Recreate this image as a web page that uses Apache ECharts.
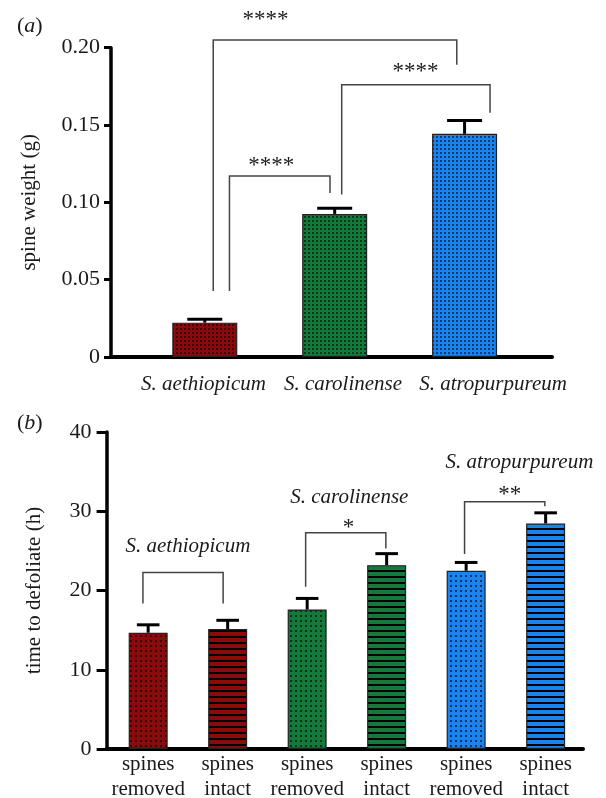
<!DOCTYPE html>
<html><head><meta charset="utf-8">
<script src="https://cdn.jsdelivr.net/npm/echarts@6/dist/echarts.min.js"></script>
<style>html,body{margin:0;padding:0;background:#fff}#c{width:606px;height:798px}</style>
</head><body><div id="c"></div>
<script>
// ---------- DATA ----------
const speciesA = ['S. aethiopicum', 'S. carolinense', 'S. atropurpureum'];
const speciesLabelPosA = [-0.01, 1.064, 2.219];
const weightMean = [0.0222, 0.0925, 0.1443];
const weightErr = [0.0022, 0.0037, 0.0086];
const yTicksA = [0, 0.05, 0.10, 0.15, 0.20];

const treatmentLabels = ['spines\nremoved', 'spines\nintact', 'spines\nremoved', 'spines\nintact', 'spines\nremoved', 'spines\nintact'];
const defolMean = [14.67, 15.14, 17.6, 23.2, 22.49, 28.46];
const defolErr = [1.0, 1.1, 1.4, 1.45, 1.05, 1.34];
const yTicksB = [0, 10, 20, 30, 40];

// brackets: [xLeft, xRight, yTop, yLeftEnd, yRightEnd]
const bracketsA = [[0.065, 1.94, 0.205, 0.0427, 0.189], [0.19, 0.964, 0.117, 0.0427, 0.106], [1.054, 2.196, 0.176, 0.105, 0.158]];
const starsA = ['****', '****', '****'];
const starPosA = [[0.467, 0.2199], [0.512, 0.1253], [1.622, 0.186]];

const bracketsB = [[-0.066, 0.943, 22.28, 18.37, 18.37], [1.981, 2.99, 27.28, 20.47, 25.31], [3.98, 4.99, 31.19, 24.6, 30.64]];
const starsB = ['*', '**'];
const starPosB = [[2.52, 28.4], [4.55, 32.5]];
const speciesB = ['S. aethiopicum', 'S. carolinense', 'S. atropurpureum'];
const speciesPosB = [[0.50, 25.5], [2.53, 31.8], [4.67, 36.2]];

// ---------- STYLE ----------
const FONT = 'Liberation Serif';
const colors = ['#8a0b0b', '#137a3b', '#1b83ef'];
const TXT = '#1a1a1a';

function nearestIdx(arr, v) {
  let best = 0;
  for (let i = 1; i < arr.length; i++) if (Math.abs(arr[i] - v) < Math.abs(arr[best] - v)) best = i;
  return best;
}
function dots(base, tile, dot, dc) {
  const c = document.createElement('canvas'); c.width = tile; c.height = tile;
  const g = c.getContext('2d'); g.fillStyle = base; g.fillRect(0, 0, tile, tile);
  g.fillStyle = dc; g.fillRect(0, 0, dot, dot);
  return { image: c, repeat: 'repeat' };
}
function stripes(base, period, w) {
  const c = document.createElement('canvas'); c.width = 4; c.height = period;
  const g = c.getContext('2d'); g.fillStyle = base; g.fillRect(0, 0, 4, period);
  g.fillStyle = '#000'; g.fillRect(0, 0, 4, w);
  return { image: c, repeat: 'repeat' };
}

function errRender(halfCap) {
  return function (p, api) {
    const x = api.value(0), m = api.value(1), e = api.value(2);
    const b = api.coord([x, m]), t = api.coord([x, m + e]);
    return { type: 'group', children: [
      { type: 'line', shape: { x1: b[0], y1: b[1], x2: t[0], y2: t[1] }, style: { stroke: '#000', lineWidth: 3 } },
      { type: 'line', shape: { x1: t[0] - halfCap, y1: t[1], x2: t[0] + halfCap, y2: t[1] }, style: { stroke: '#000', lineWidth: 3 } }
    ] };
  };
}
function bracketRender(p, api) {
  const x1 = api.value(0), x2 = api.value(1), yt = api.value(2), yl = api.value(3), yr = api.value(4);
  return { type: 'polyline', shape: { points: [api.coord([x1, yl]), api.coord([x1, yt]), api.coord([x2, yt]), api.coord([x2, yr])] },
    style: { stroke: '#444', lineWidth: 1.5, fill: null } };
}
function textRender(labels, size, italic, dy) {
  return function (p, api) {
    const pt = api.coord([api.value(0), api.value(1)]);
    return { type: 'text', x: pt[0], y: pt[1] + dy, style: { text: labels[p.dataIndex], fontSize: size, fontFamily: FONT,
      fontStyle: italic ? 'italic' : 'normal', fill: TXT, align: 'center', verticalAlign: 'middle' } };
  };
}

const yAxisCommon = {
  type: 'value', nameLocation: 'middle', nameRotate: 90,
  nameTextStyle: { fontFamily: FONT, fontSize: 21, color: TXT },
  axisLine: { show: true, onZero: false, lineStyle: { color: '#000', width: 3.5 } },
  splitLine: { show: false }
};
const richTitle = { p: { fontFamily: FONT, fontSize: 22, fontWeight: 'normal', color: TXT }, i: { fontFamily: FONT, fontSize: 22, fontWeight: 'normal', fontStyle: 'italic', color: TXT } };

const chart = echarts.init(document.getElementById('c'), null, { renderer: 'canvas' });
chart.setOption({
  animation: false,
  backgroundColor: '#fff',
  title: [
    { text: '{p|(}{i|a}{p|)}', left: 12, top: 10, textStyle: { fontWeight: 'normal', rich: richTitle } },
    { text: '{p|(}{i|b}{p|)}', left: 12, top: 407, textStyle: { fontWeight: 'normal', rich: richTitle } }
  ],
  grid: [
    { left: 111, top: 47.7, width: 441, height: 309.3, containLabel: false, outerBoundsMode: 'none' },
    { left: 106.6, top: 432, width: 476.4, height: 317, containLabel: false, outerBoundsMode: 'none' }
  ],
  xAxis: [
    { gridIndex: 0, type: 'value', min: -0.722, max: 2.673,
      axisLine: { show: true, onZero: false, lineStyle: { color: '#000', width: 4 } }, axisTick: { show: false }, splitLine: { show: false },
      axisLabel: { show: true, customValues: speciesLabelPosA, hideOverlap: false, formatter: v => speciesA[nearestIdx(speciesLabelPosA, v)], fontFamily: FONT, fontStyle: 'italic', fontSize: 21, color: TXT, margin: 17 } },
    { gridIndex: 1, type: 'value', min: -0.523, max: 5.47,
      axisLine: { show: true, onZero: false, lineStyle: { color: '#000', width: 4 } }, axisTick: { show: false }, splitLine: { show: false },
      axisLabel: { customValues: [0, 1, 2, 3, 4, 5], hideOverlap: false, formatter: v => treatmentLabels[Math.round(v)], fontFamily: FONT, fontSize: 21, lineHeight: 25, color: TXT, margin: 3 } }
  ],
  yAxis: [
    Object.assign({}, yAxisCommon, { gridIndex: 0, min: 0, max: 0.2, interval: 0.05, name: 'spine weight (g)', nameGap: 71,
      axisLabel: { customValues: yTicksA, formatter: v => v === 0 ? '0' : v.toFixed(2), fontFamily: FONT, fontSize: 22, color: TXT, margin: 11 },
      axisTick: { show: true, customValues: yTicksA, length: 7, lineStyle: { color: '#000', width: 3 } } }),
    Object.assign({}, yAxisCommon, { gridIndex: 1, min: 0, max: 40, interval: 10, name: 'time to defoliate (h)', nameGap: 62,
      axisLabel: { customValues: yTicksB, fontFamily: FONT, fontSize: 22, color: TXT, margin: 15 },
      axisTick: { show: true, customValues: yTicksB, length: 10, lineStyle: { color: '#000', width: 3 } } })
  ],
  series: [
    { type: 'bar', xAxisIndex: 0, yAxisIndex: 0, barWidth: 65,
      data: weightMean.map((v, i) => ({ value: [i, v], itemStyle: { color: dots(colors[i], 4, 2, 'rgba(0,0,0,0.55)'), borderColor: '#222', borderWidth: 1.2 } })) },
    { type: 'custom', xAxisIndex: 0, yAxisIndex: 0, renderItem: errRender(17.5), data: weightMean.map((v, i) => [i, v, weightErr[i]]), z: 3 },
    { type: 'custom', xAxisIndex: 0, yAxisIndex: 0, renderItem: bracketRender, data: bracketsA, clip: false },
    { type: 'custom', xAxisIndex: 0, yAxisIndex: 0, renderItem: textRender(starsA, 23, false, 3), data: starPosA, clip: false },

    { type: 'bar', xAxisIndex: 1, yAxisIndex: 1, barWidth: 39,
      data: defolMean.map((v, i) => ({ value: [i, v], itemStyle: {
        color: i % 2 === 0 ? dots(colors[i >> 1], 5, 2, 'rgba(0,0,0,0.6)') : stripes(colors[i >> 1], 6.5, 2),
        borderColor: '#222', borderWidth: 1.2 } })) },
    { type: 'custom', xAxisIndex: 1, yAxisIndex: 1, renderItem: errRender(11.3), data: defolMean.map((v, i) => [i, v, defolErr[i]]), z: 3 },
    { type: 'custom', xAxisIndex: 1, yAxisIndex: 1, renderItem: bracketRender, data: bracketsB, clip: false },
    { type: 'custom', xAxisIndex: 1, yAxisIndex: 1, renderItem: textRender(starsB, 23, false, 4), data: starPosB, clip: false },
    { type: 'custom', xAxisIndex: 1, yAxisIndex: 1, renderItem: textRender(speciesB, 21, true, 0), data: speciesPosB, clip: false }
  ]
});
</script>
</body></html>
